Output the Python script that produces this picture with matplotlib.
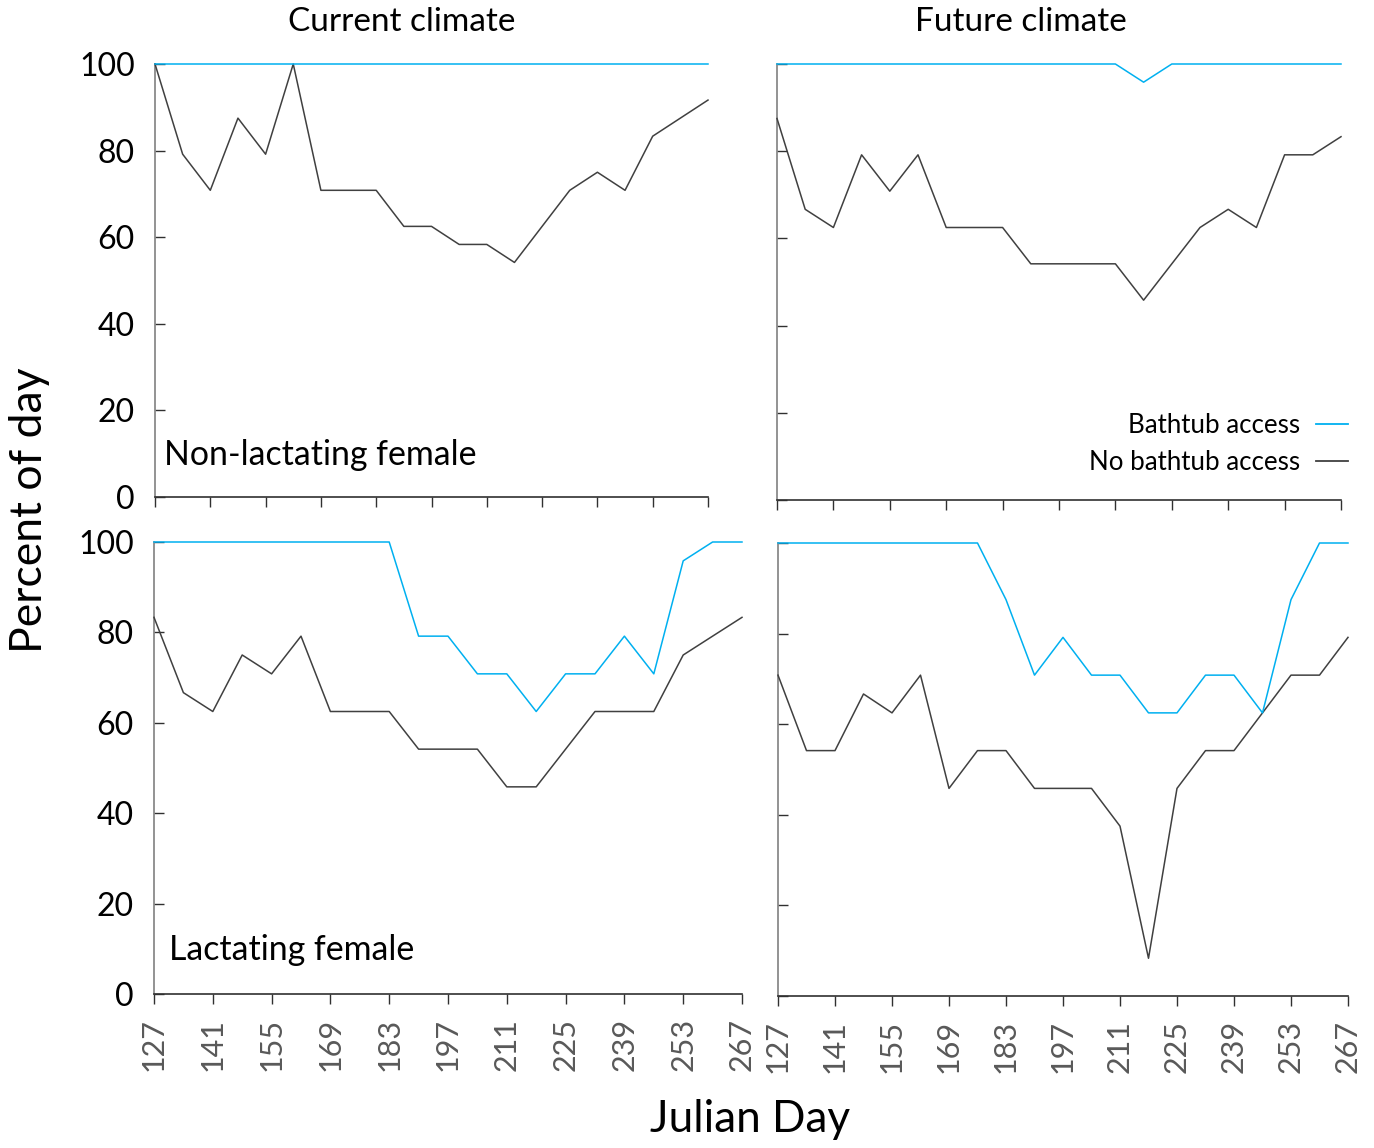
import matplotlib
matplotlib.use("Agg")
import matplotlib.pyplot as plt
from matplotlib.lines import Line2D

plt.rcParams['font.family'] = ['Lato', 'DejaVu Sans']

days = list(range(127, 268, 7))
tick_days = list(range(127, 268, 14))
y_ticks = [0, 20, 40, 60, 80, 100]

# Current climate, non-lactating female
cur_nonlact_bath = [100] * 21
cur_nonlact_nobath = [100, 79.17, 70.83, 87.5, 79.17, 100, 70.83, 70.83, 70.83, 62.5, 62.5,
                      58.33, 58.33, 54.17, 62.5, 70.83, 75, 70.83, 83.33, 87.5, 91.67]
# Future climate, non-lactating female
fut_nonlact_bath = [100, 100, 100, 100, 100, 100, 100, 100, 100, 100, 100, 100, 100,
                    95.83, 100, 100, 100, 100, 100, 100, 100]
fut_nonlact_nobath = [87.5, 66.67, 62.5, 79.17, 70.83, 79.17, 62.5, 62.5, 62.5, 54.17, 54.17,
                      54.17, 54.17, 45.83, 54.17, 62.5, 66.67, 62.5, 79.17, 79.17, 83.33]
# Current climate, lactating female
cur_lact_bath = [100, 100, 100, 100, 100, 100, 100, 100, 100, 79.17, 79.17, 70.83, 70.83,
                 62.5, 70.83, 70.83, 79.17, 70.83, 95.83, 100, 100]
cur_lact_nobath = [83.33, 66.67, 62.5, 75, 70.83, 79.17, 62.5, 62.5, 62.5, 54.17, 54.17,
                   54.17, 45.83, 45.83, 54.17, 62.5, 62.5, 62.5, 75, 79.17, 83.33]
# Future climate, lactating female
fut_lact_bath = [100, 100, 100, 100, 100, 100, 100, 100, 87.5, 70.83, 79.17, 70.83, 70.83,
                 62.5, 62.5, 70.83, 70.83, 62.5, 87.5, 100, 100]
fut_lact_nobath = [70.83, 54.17, 54.17, 66.67, 62.5, 70.83, 45.83, 54.17, 54.17, 45.83, 45.83,
                   45.83, 37.5, 8.33, 45.83, 54.17, 54.17, 62.5, 70.83, 70.83, 79.17]

col_titles = ["Current climate", "Future climate"]
panel_labels = ["Non-lactating female", "Lactating female"]
legend_labels = ["Bathtub access", "No bathtub access"]

BLUE = '#00B0F0'
DARK = '#404040'

W, H = 1374, 1148
fig = plt.figure(figsize=(W / 100, H / 100), dpi=100)

def box(l, r, t, b):
    return [l / W, 1 - b / H, (r - l) / W, (b - t) / H]

axes_boxes = {
    (0, 0): box(155, 708, 64, 497),
    (0, 1): box(777, 1341, 64, 500),
    (1, 0): box(154, 742, 542, 994),
    (1, 1): box(778, 1348, 543, 996),
}
series = {
    (0, 0): (cur_nonlact_bath, cur_nonlact_nobath),
    (0, 1): (fut_nonlact_bath, fut_nonlact_nobath),
    (1, 0): (cur_lact_bath, cur_lact_nobath),
    (1, 1): (fut_lact_bath, fut_lact_nobath),
}
label_x = {0: 129.3, 1: 130.6}

for (r, c), b in axes_boxes.items():
    ax = fig.add_axes(b)
    bath, nobath = series[(r, c)]
    ax.plot(days, nobath, color=DARK, lw=1.1, clip_on=False, zorder=3)
    ax.plot(days, bath, color=BLUE, lw=1.1, clip_on=False, zorder=4)
    ax.set_xlim(127, 267)
    ax.set_ylim(0, 100)
    for s in ['top', 'right']:
        ax.spines[s].set_visible(False)
    ax.spines['left'].set_color('#808080')
    ax.spines['left'].set_linewidth(1.2)
    ax.spines['bottom'].set_color('#303030')
    ax.spines['bottom'].set_linewidth(1.2)
    ax.set_yticks(y_ticks)
    ax.set_xticks(tick_days)
    ax.tick_params(axis='y', direction='in', length=7.5, width=1.0, color='#303030',
                   pad=14.5, labelsize=23, labelcolor='black')
    ax.tick_params(axis='x', direction='out', length=7.5, width=1.0, color='#303030',
                   pad=10, labelsize=22, labelcolor='#595959', labelrotation=90)
    if c == 1:
        ax.tick_params(axis='y', labelleft=False)
    if r == 0:
        ax.tick_params(axis='x', labelbottom=False)
    if c == 0:
        ax.text(label_x[r], 9.7, panel_labels[r], fontsize=24.4, va='center', ha='left')

fig.text(402 / W, 1 - 22 / H, col_titles[0], fontsize=24, ha='center', va='center')
fig.text(1021 / W, 1 - 22 / H, col_titles[1], fontsize=24, ha='center', va='center')

handles = [Line2D([], [], color=BLUE, lw=1.3), Line2D([], [], color=DARK, lw=1.3)]
fig.legend(handles, legend_labels, markerfirst=False, frameon=False, fontsize=18.6,
           loc='center right', bbox_to_anchor=(1348 / W, 1 - 444 / H),
           handlelength=1.25, handletextpad=0.6, labelspacing=0.45, borderpad=0, borderaxespad=0)

fig.text(30 / W, 1 - 510 / H, "Percent of day", rotation=90, fontsize=32, ha='center', va='center')
fig.text(750 / W, 1 - 1120 / H, "Julian Day", fontsize=31.8, ha='center', va='center')

fig.savefig("out.png", dpi=100)
